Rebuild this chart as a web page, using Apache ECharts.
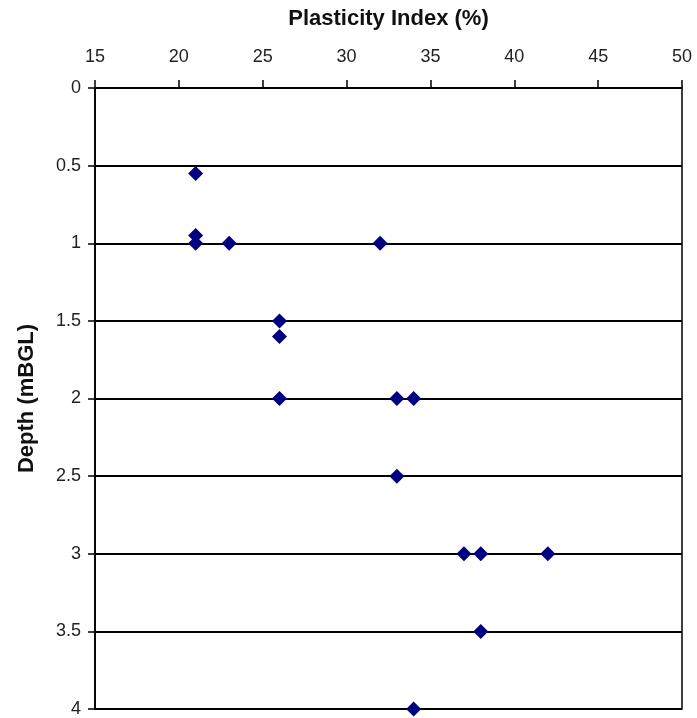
<!DOCTYPE html>
<html>
<head>
<meta charset="utf-8">
<script src="https://cdn.jsdelivr.net/npm/echarts@6/dist/echarts.min.js"></script>
<style>
html, body { margin: 0; padding: 0; background: #fff; }
#chart { width: 697px; height: 718px; }
</style>
</head>
<body>
<div id="chart"></div>
<script>
// plasticity index (%) vs depth (m below ground level)
var plasticity = [21, 21, 21, 23, 32, 26, 26, 26, 33, 34, 33, 37, 38, 42, 38, 34]
var depth = [0.55, 0.95, 1.0, 1.0, 1.0, 1.5, 1.6, 2.0, 2.0, 2.0, 2.5, 3.0, 3.0, 3.0, 3.5, 4.0]
var xTicks = [15, 20, 25, 30, 35, 40, 45, 50]
var yTicks = [0, 0.5, 1, 1.5, 2, 2.5, 3, 3.5, 4]

var points = plasticity.map(function (v, i) { return [v, depth[i]] })

var chart = echarts.init(document.getElementById('chart'))
var font = 'Liberation Sans, Arial, sans-serif'
chart.setOption({
  animation: false,
  grid: {
    left: 95,
    right: 15,
    top: 88,
    bottom: 3,
    show: true,
    borderColor: '#000',
    borderWidth: 1.5
  },
  xAxis: {
    type: 'value',
    position: 'top',
    min: xTicks[0],
    max: xTicks[xTicks.length - 1],
    interval: 5,
    name: 'Plasticity Index (%)',
    nameLocation: 'middle',
    nameGap: 58,
    nameTextStyle: { fontFamily: font, fontSize: 22, fontWeight: 'bold', color: '#111' },
    axisLine: { lineStyle: { color: '#000', width: 1.8 } },
    axisTick: { show: true, length: 8, lineStyle: { color: '#000', width: 1.5 } },
    axisLabel: { fontFamily: font, fontSize: 18, color: '#222', margin: 22 },
    splitLine: { show: false }
  },
  yAxis: {
    type: 'value',
    inverse: true,
    min: yTicks[0],
    max: yTicks[yTicks.length - 1],
    interval: 0.5,
    name: 'Depth (mBGL)',
    nameLocation: 'middle',
    nameGap: 57,
    nameTextStyle: { fontFamily: font, fontSize: 22, fontWeight: 'bold', color: '#111' },
    axisLine: { lineStyle: { color: '#000', width: 1.8 } },
    axisTick: { show: true, length: 7, lineStyle: { color: '#000', width: 1.5 } },
    axisLabel: { fontFamily: font, fontSize: 18, color: '#222', margin: 14 },
    splitLine: { show: true, lineStyle: { color: '#000', width: 1.8 } }
  },
  series: [{
    type: 'scatter',
    data: points,
    symbol: 'diamond',
    symbolSize: 15,
    itemStyle: { color: '#000080', opacity: 1 }
  }]
})
</script>
</body>
</html>
